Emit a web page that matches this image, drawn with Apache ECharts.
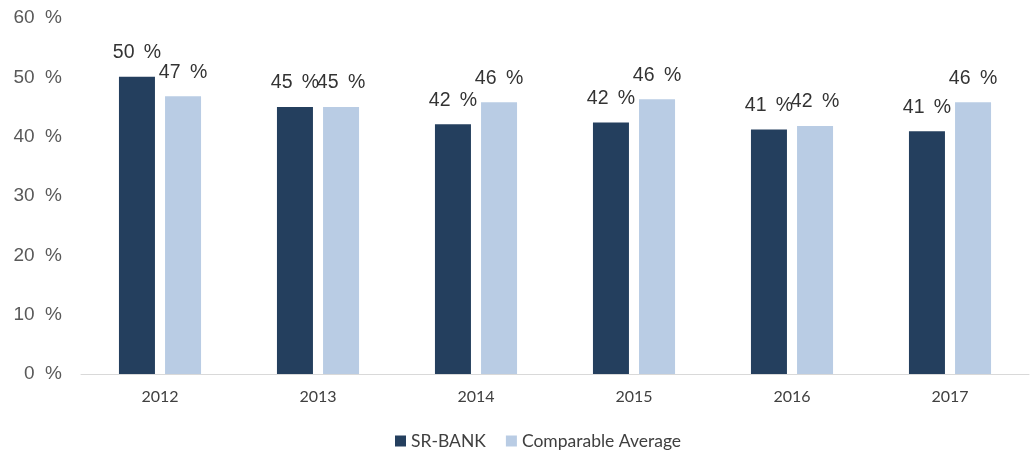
<!DOCTYPE html>
<html>
<head>
<meta charset="utf-8">
<script src="https://cdn.jsdelivr.net/npm/echarts@6/dist/echarts.min.js"></script>
<style>
  html, body { margin: 0; padding: 0; background: #fff; }
  #chart { width: 1033px; height: 457px; }
</style>
</head>
<body>
<div id="chart"></div>
<script>
// values (labels show rounded numbers)
var years = ['2012', '2013', '2014', '2015', '2016', '2017']
var srBank = [50.1, 45.0, 42.1, 42.4, 41.2, 40.9]
var comparableAvg = [46.8, 45.0, 45.8, 46.3, 41.8, 45.8]
var yTicks = [0, 10, 20, 30, 40, 50, 60]

var chart = echarts.init(document.getElementById('chart'))

var barLabel = {
  show: true,
  position: 'top',
  distance: 14,
  color: '#333333',
  fontFamily: 'Liberation Sans',
  fontSize: 19.5,
  formatter: function (p) {
    return Math.round(p.value) + ' \u2009%'
  }
}

chart.setOption({
  animation: false,
  backgroundColor: '#ffffff',
  grid: {
    left: 81,
    right: 4,
    top: 18,
    bottom: 83
  },
  legend: {
    bottom: 2,
    left: 390,
    itemWidth: 11,
    itemHeight: 11,
    itemGap: 20,
    icon: 'rect',
    textStyle: {
      color: '#404040',
      fontFamily: 'Lato',
      fontSize: 17.5
    },
    data: ['SR-BANK', 'Comparable Average']
  },
  xAxis: {
    type: 'category',
    data: years,
    axisLine: {
      lineStyle: { color: '#d9d9d9', width: 1 }
    },
    axisTick: { show: false },
    axisLabel: {
      color: '#404040',
      fontFamily: 'Lato',
      fontSize: 16,
      margin: 15
    }
  },
  yAxis: {
    type: 'value',
    min: yTicks[0],
    max: yTicks[yTicks.length - 1],
    interval: 10,
    axisLine: { show: false },
    axisTick: { show: false },
    splitLine: { show: false },
    axisLabel: {
      color: '#595959',
      fontFamily: 'Liberation Sans',
      fontSize: 19,
      margin: 19,
      formatter: '{value}  %'
    }
  },
  series: [{
    name: 'SR-BANK',
    type: 'bar',
    data: srBank,
    barWidth: 36,
    barGap: '28%',
    itemStyle: { color: '#243f5e' },
    label: barLabel
  }, {
    name: 'Comparable Average',
    type: 'bar',
    data: comparableAvg,
    barWidth: 36,
    itemStyle: { color: '#b9cce4' },
    label: barLabel
  }]
})
</script>
</body>
</html>
